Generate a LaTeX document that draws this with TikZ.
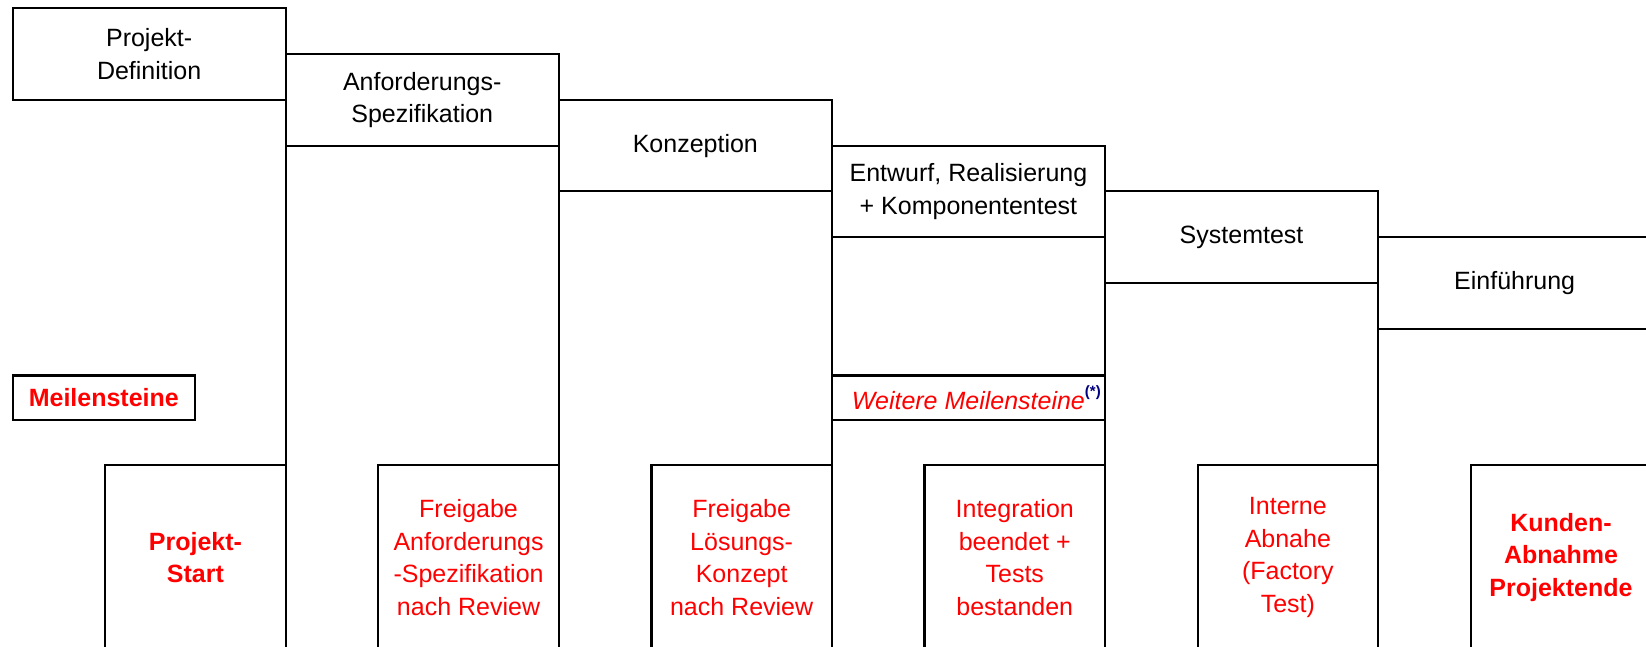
\documentclass[tikz,border=0pt]{standalone}
\usepackage{fontspec}
\setmainfont{Liberation Sans}
\definecolor{notenavy}{RGB}{0,0,128}
\begin{document}
\begin{tikzpicture}[x=1pt,y=-1pt,
  line width=2.2pt,
  every node/.style={outer sep=0pt, inner sep=0pt, align=center,
    font=\fontsize{25}{32.5}\selectfont},
  phase/.style={draw, minimum width=273.1pt, minimum height=91.5pt},
  milestone/.style={draw, minimum width=180.5pt, minimum height=185pt, text=red},
  keybox/.style={draw, minimum height=44.5pt, text=red},
]
\fill[white] (0,0) rectangle (1646,647);
\useasboundingbox (0,0) rectangle (1646,647);
\begin{scope}
\clip (0,0) rectangle (1646,647);
\coordinate (bottom) at (0,665);

% project phases, stepping down to the right
\node[phase] (p1) at (149.15,54.15)  {Projekt-\\Definition};
\node[phase] (p2) at (422.25,99.9)   {Anforderungs-\\Spezifikation};
\node[phase] (p3) at (695.35,145.65) {Konzeption};
\node[phase] (p4) at (968.45,191.4)  {Entwurf, Realisierung\\+ Komponententest};
\node[phase] (p5) at (1241.55,237.15){Systemtest};
\node[phase] (p6) at (1514.65,282.9) {Einführung};

% columns below each phase
\foreach \p in {p2,p3,p4,p5,p6}{
  \draw (\p.south west) -- (\p.south west |- bottom);
  \draw (\p.south east) -- (\p.south east |- bottom);
}

% milestone legend
\node[keybox, minimum width=182.4pt, font=\fontsize{25}{32.5}\selectfont\bfseries]
  (key) at (103.8,397.8) {Meilensteine};
\node[keybox, minimum width=273.1pt, font=\fontsize{25}{32.5}\selectfont\itshape]
  (more) at (968.45,397.8)
  {Weitere Meilensteine\rlap{\raisebox{13pt}{\color{notenavy}\fontsize{15}{15}\selectfont\bfseries\upshape(*)}}};

% milestones at the end of each phase
\node[milestone, font=\fontsize{25}{32.5}\selectfont\bfseries] (m1) at (195.45,557.5)
  {Projekt-\\Start};
\node[milestone] (m2) at (468.55,557.5)
  {Freigabe\\Anforderungs\\-Spezifikation\\nach Review};
\node[milestone] (m3) at (741.65,557.5)
  {Freigabe\\Lösungs-\\Konzept\\nach Review};
\node[milestone] (m4) at (1014.75,557.5)
  {Integration\\beendet +\\Tests\\bestanden};
\node[milestone] (m5) at (1287.85,557.5)
  {Interne\\Abnahe\\(Factory\\Test)};
\node[milestone, font=\fontsize{25}{32.5}\selectfont\bfseries] (m6) at (1560.95,557.5)
  {Kunden-\\Abnahme\\Projektende};
\end{scope}
\end{tikzpicture}
\end{document}
